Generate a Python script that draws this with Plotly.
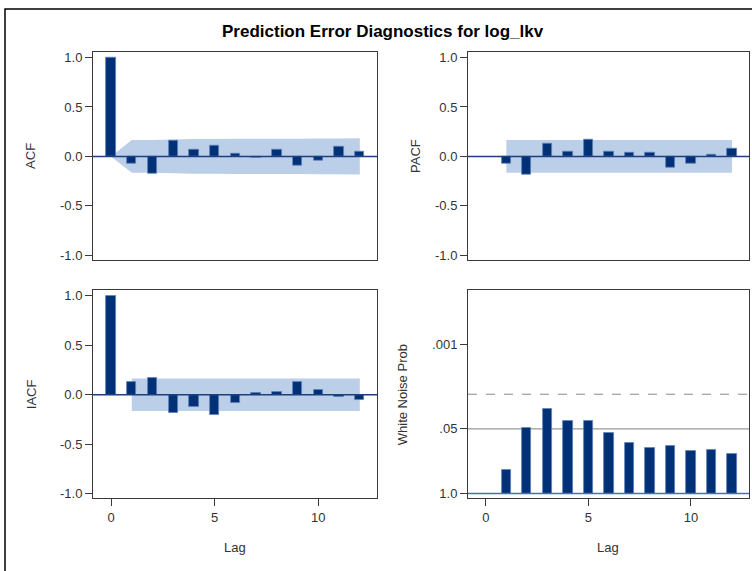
import math
import plotly.graph_objects as go

# ---------------- data ----------------
acf_lags = list(range(0, 13))
acf_vals = [1.0, -0.077, -0.178, 0.157, 0.064, 0.110, 0.027, -0.010, 0.064, -0.090, -0.047, 0.100, 0.050]
acf_band = [0.0, 0.165, 0.166, 0.171, 0.175, 0.176, 0.178, 0.178, 0.178, 0.179, 0.180, 0.181, 0.183]

pacf_lags = list(range(1, 13))
pacf_vals = [-0.077, -0.184, 0.130, 0.047, 0.167, 0.047, 0.034, 0.034, -0.110, -0.077, 0.017, 0.074]
pacf_band = [0.165] * 12

iacf_lags = list(range(0, 13))
iacf_vals = [1.0, 0.130, 0.167, -0.188, -0.127, -0.200, -0.084, 0.020, 0.030, 0.130, 0.047, -0.023, -0.057]
iacf_band_lags = list(range(1, 13))
iacf_band = [0.165] * 12

wn_lags = list(range(1, 13))
wn_pvals = [0.336, 0.048, 0.020, 0.034, 0.034, 0.059, 0.095, 0.120, 0.112, 0.141, 0.132, 0.162]

corr_ticks = [-1.0, -0.5, 0.0, 0.5, 1.0]
corr_ticktext = ["-1.0", "-0.5", "0.0", "0.5", "1.0"]
wn_tick_p = [1.0, 0.05, 0.001]
wn_ticktext = ["1.0", ".05", ".001"]
lag_ticks = [0, 5, 10]

title_text = "Prediction Error Diagnostics for log_lkv"

# ---------------- style ----------------
W, H = 752, 571
BAR = "#003176"
BAR_EDGE = "#5f82bd"
BAND = "#bbcfe8"
ZERO = "#1f3f7f"
FRAME = "#3a3a3a"
TXT = "#333333"
FONT = "Liberation Sans Narrow, Arial Narrow, Liberation Sans, Arial, sans-serif"

def fx(px):
    return px / W

def fy(py):
    return 1 - py / H

panels = {
    "acf": dict(x=(93, 377), y=(51, 261)),
    "pacf": dict(x=(468, 749), y=(51, 261)),
    "iacf": dict(x=(93, 377), y=(291, 501)),
    "wn": dict(x=(468, 749), y=(291, 501)),
}

fig = go.Figure()

def band_shape(lags, band, xa, ya):
    xs = list(lags) + list(reversed(lags))
    ys = list(band) + [-b for b in reversed(band)]
    path = "M " + " L ".join(f"{x},{y}" for x, y in zip(xs, ys)) + " Z"
    return dict(type="path", path=path, xref=xa, yref=ya, fillcolor=BAND,
                line=dict(width=0), layer="below")

def bar_trace(lags, vals, xa, ya):
    return go.Bar(x=lags, y=vals, base=0, width=0.45,
                  marker=dict(color=BAR, line=dict(color=BAR_EDGE, width=0.8)),
                  showlegend=False, xaxis=xa, yaxis=ya, hoverinfo="x+y")

fig.add_trace(bar_trace(acf_lags, acf_vals, "x", "y"))
fig.add_trace(bar_trace(pacf_lags, pacf_vals, "x2", "y2"))
fig.add_trace(bar_trace(iacf_lags, iacf_vals, "x3", "y3"))
wn_vals = [-math.log10(p) for p in wn_pvals]
fig.add_trace(bar_trace(wn_lags, wn_vals, "x4", "y4"))

xrange = [-0.87, 12.83]
tickfont = dict(family=FONT, size=13, color=TXT)

def xaxis(key, show):
    p = panels[key]
    d = dict(domain=[fx(p["x"][0]), fx(p["x"][1])], range=xrange, showgrid=False, zeroline=False,
             showline=True, mirror=True, linecolor=FRAME, linewidth=1,
             tickvals=lag_ticks, fixedrange=True)
    if show:
        d.update(ticks="outside", ticklen=7, tickcolor=FRAME, showticklabels=True, tickfont=tickfont)
    else:
        d.update(ticks="", showticklabels=False)
    return d

def yaxis(key, anchor, rng, tv, tt):
    p = panels[key]
    return dict(domain=[fy(p["y"][1]), fy(p["y"][0])], range=rng, anchor=anchor, showgrid=False, zeroline=False,
                showline=True, mirror=True, linecolor=FRAME, linewidth=1,
                tickvals=tv, ticktext=tt, ticks="outside", ticklen=7, tickcolor=FRAME,
                tickfont=tickfont, fixedrange=True)

wn_tickvals = [-math.log10(p) for p in wn_tick_p]

fig.update_layout(
    width=W, height=H,
    margin=dict(l=0, r=0, t=0, b=0),
    paper_bgcolor="white", plot_bgcolor="white",
    bargap=0,
    xaxis=dict(xaxis("acf", False), anchor="y"),
    yaxis=yaxis("acf", "x", [-1.05, 1.06], corr_ticks, corr_ticktext),
    xaxis2=dict(xaxis("pacf", False), anchor="y2"),
    yaxis2=yaxis("pacf", "x2", [-1.05, 1.06], corr_ticks, corr_ticktext),
    xaxis3=dict(xaxis("iacf", True), anchor="y3"),
    yaxis3=yaxis("iacf", "x3", [-1.05, 1.06], corr_ticks, corr_ticktext),
    xaxis4=dict(xaxis("wn", True), anchor="y4"),
    yaxis4=yaxis("wn", "x4", [-0.1, 4.1], wn_tickvals, wn_ticktext),
)

shapes = []
# confidence bands
shapes.append(band_shape(acf_lags, acf_band, "x", "y"))
shapes.append(band_shape(pacf_lags, pacf_band, "x2", "y2"))
shapes.append(band_shape(iacf_band_lags, iacf_band, "x3", "y3"))
# zero lines for correlation panels
for xa, ya in [("x", "y"), ("x2", "y2"), ("x3", "y3")]:
    shapes.append(dict(type="line", xref=f"{xa} domain", yref=ya, x0=0, x1=1, y0=0, y1=0,
                       line=dict(color=ZERO, width=1.5), layer="above"))
# white noise reference lines
shapes.append(dict(type="line", xref="x4 domain", yref="y4", x0=0, x1=1,
                   y0=-math.log10(0.05), y1=-math.log10(0.05),
                   line=dict(color="#999999", width=1.2), layer="below"))
shapes.append(dict(type="line", xref="x4 domain", yref="y4", x0=0, x1=1,
                   y0=-math.log10(0.01), y1=-math.log10(0.01),
                   line=dict(color="#8a8a8a", width=1, dash="dash"), layer="below"))
shapes.append(dict(type="line", xref="x4 domain", yref="y4", x0=0, x1=1, y0=0, y1=0,
                   line=dict(color="#4a6fae", width=1.5), layer="above"))
# outer frame
shapes.append(dict(type="rect", xref="paper", yref="paper", x0=fx(5), x1=fx(760), y0=fy(580), y1=fy(8),
                   line=dict(color="black", width=1.5), fillcolor="rgba(0,0,0,0)", layer="above"))
fig.update_layout(shapes=shapes)

ann_font = dict(family=FONT, size=13, color=TXT)
annotations = [
    dict(text=title_text, xref="paper", yref="paper", x=fx(383), y=fy(31), showarrow=False,
         font=dict(family=FONT, size=17, color="black", weight="bold"), xanchor="center", yanchor="middle"),
    dict(text="ACF", xref="paper", yref="paper", x=fx(31), y=fy(156), textangle=-90, showarrow=False,
         font=ann_font, xanchor="center", yanchor="middle"),
    dict(text="PACF", xref="paper", yref="paper", x=fx(416), y=fy(156), textangle=-90, showarrow=False,
         font=ann_font, xanchor="center", yanchor="middle"),
    dict(text="IACF", xref="paper", yref="paper", x=fx(31), y=fy(396), textangle=-90, showarrow=False,
         font=ann_font, xanchor="center", yanchor="middle"),
    dict(text="White Noise Prob", xref="paper", yref="paper", x=fx(402), y=fy(396), textangle=-90, showarrow=False,
         font=ann_font, xanchor="center", yanchor="middle"),
    dict(text="Lag", xref="paper", yref="paper", x=fx(235), y=fy(550), showarrow=False,
         font=ann_font, xanchor="center", yanchor="middle"),
    dict(text="Lag", xref="paper", yref="paper", x=fx(608), y=fy(550), showarrow=False,
         font=ann_font, xanchor="center", yanchor="middle"),
]
fig.update_layout(annotations=annotations)

fig.write_html("out.html")
